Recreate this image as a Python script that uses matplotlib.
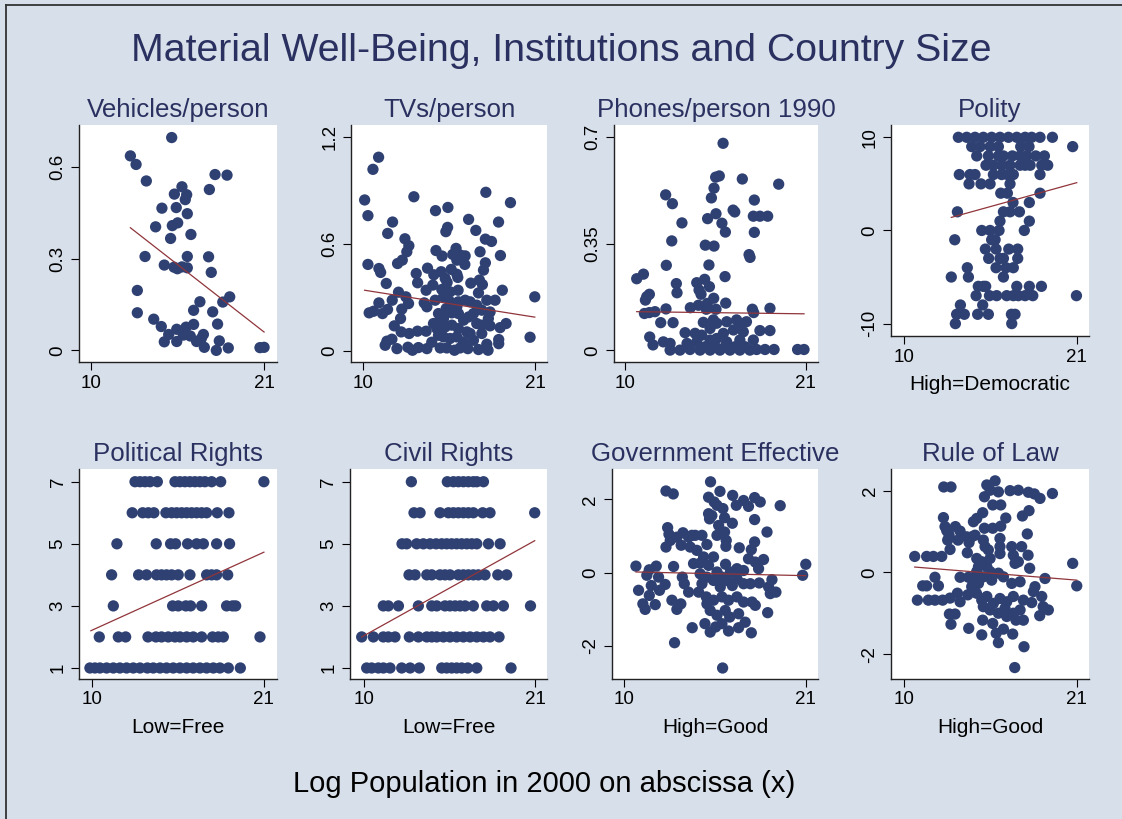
import numpy as np
import matplotlib
matplotlib.use('Agg')
import matplotlib.pyplot as plt
from matplotlib.lines import Line2D

plt.rcParams['font.family'] = ['Liberation Sans', 'DejaVu Sans']

# ---- data (x = log population 2000) ----
veh_x = [15.14, 12.52, 12.88, 13.53, 17.89, 18.65, 15.79, 15.31, 16.09, 16.0, 17.53, 14.52, 15.43,
         16.13, 14.12, 15.18, 15.52, 16.36, 15.07, 13.45, 16.13, 17.48, 14.67, 15.29, 15.5, 15.79,
         16.13, 17.65, 12.96, 18.82, 18.38, 16.93, 12.96, 16.53, 17.74, 14.0, 14.48, 18.05, 14.95,
         15.46, 16.05, 16.53, 15.88, 16.32, 17.15, 17.02, 16.72, 14.67, 15.46, 17.21, 18.16, 17.97,
         18.73, 20.74, 21.0]
veh_y = [0.696, 0.636, 0.608, 0.554, 0.575, 0.573, 0.535, 0.511, 0.509, 0.493, 0.526, 0.465, 0.467,
         0.447, 0.404, 0.408, 0.417, 0.379, 0.366, 0.307, 0.307, 0.306, 0.279, 0.272, 0.267, 0.273,
         0.270, 0.255, 0.196, 0.175, 0.158, 0.159, 0.123, 0.131, 0.126, 0.102, 0.078, 0.086, 0.052,
         0.069, 0.076, 0.085, 0.050, 0.047, 0.052, 0.039, 0.029, 0.028, 0.029, 0.010, 0.031, 0.0,
         0.008, 0.009, 0.010]

tv_x = [11.02, 10.66, 10.13, 10.34, 13.27, 17.86, 19.43, 14.65, 15.44, 16.76, 18.67, 11.91, 11.6,
        15.42, 15.31, 17.22, 17.83, 18.22, 12.7, 12.95, 12.82, 10.34, 11.04, 11.15, 12.23, 12.53,
        14.68, 15.07, 15.96, 15.75, 16.24, 16.54, 16.01, 16.52, 17.49, 17.83, 17.71, 18.79, 13.42,
        14.14, 14.54, 15.01, 15.65, 16.01, 16.07, 13.51, 11.51, 14.48, 15.27, 15.39, 16.9, 17.45,
        17.64, 18.91, 20.98, 14.05, 15.05, 15.58, 16.09, 12.29, 12.76, 11.89, 11.04, 10.42, 10.7,
        11.27, 11.59, 12.5, 12.93, 13.93, 12.42, 12.02, 12.46, 12.97, 13.5, 14.05, 11.55, 11.87,
        11.44, 12.19, 12.89, 13.18, 13.56, 14.1, 14.41, 14.84, 14.95, 15.37, 15.86, 16.22, 16.71,
        17.39, 18.0, 16.44, 17.07, 17.92, 18.68, 18.68, 20.68, 18.77, 19.15, 18.13, 18.02, 17.92,
        18.45, 17.39, 16.86, 16.54, 16.11, 17.28, 17.07, 16.76, 16.44, 16.11, 15.69, 15.33, 14.84,
        14.95, 15.27, 15.69, 16.11, 16.65, 17.28, 17.6, 17.6, 14.73, 15.16, 15.58, 16.01, 16.86,
        14.52, 14.1, 14.63, 15.16, 15.58, 16.01, 17.6, 18.13, 15.16]
tv_y = [1.086, 1.018, 0.846, 0.758, 0.864, 0.889, 0.831, 0.786, 0.804, 0.737, 0.722, 0.722, 0.658,
        0.692, 0.668, 0.675, 0.626, 0.613, 0.628, 0.589, 0.555, 0.484, 0.461, 0.439, 0.489, 0.508,
        0.562, 0.531, 0.574, 0.540, 0.536, 0.532, 0.508, 0.484, 0.555, 0.493, 0.452, 0.534, 0.433,
        0.463, 0.426, 0.443, 0.456, 0.429, 0.411, 0.381, 0.377, 0.368, 0.405, 0.383, 0.379, 0.396,
        0.371, 0.339, 0.302, 0.339, 0.343, 0.330, 0.339, 0.328, 0.302, 0.283, 0.268, 0.212, 0.221,
        0.208, 0.231, 0.233, 0.264, 0.268, 0.180, 0.139, 0.105, 0.096, 0.109, 0.109, 0.053, 0.064,
        0.030, 0.011, 0.019, 0.002, 0.017, 0.011, 0.047, 0.086, 0.015, 0.015, 0.002, 0.015, 0.011,
        0.006, 0.002, 0.049, 0.058, 0.036, 0.062, 0.039, 0.075, 0.129, 0.152, 0.139, 0.180, 0.283,
        0.283, 0.324, 0.274, 0.283, 0.274, 0.255, 0.208, 0.189, 0.171, 0.208, 0.212, 0.236, 0.208,
        0.171, 0.133, 0.143, 0.124, 0.105, 0.152, 0.143, 0.096, 0.124, 0.077, 0.068, 0.077, 0.096,
        0.152, 0.246, 0.283, 0.302, 0.274, 0.246, 0.227, 0.217, 0.180]

phone_x = [15.98, 19.36, 17.15, 15.53, 15.75, 15.43, 15.27, 12.49, 12.9, 17.88, 16.59, 16.69, 15.55,
           15.04, 15.91, 13.48, 17.82, 18.22, 18.69, 16.12, 17.88, 12.86, 14.9, 15.43, 17.56, 17.62,
           12.53, 15.12, 10.73, 11.14, 16.1, 13.14, 13.18, 14.38, 14.86, 14.52, 14.64, 15.15, 11.34,
           11.5, 11.26, 15.41, 16.14, 14.48, 15.02, 13.99, 12.51, 11.2, 11.5, 11.84, 14.96, 15.55,
           17.76, 17.84, 18.83, 12.19, 12.94, 14.78, 15.39, 15.59, 16.2, 16.8, 17.0, 17.4, 15.19,
           13.67, 14.28, 14.68, 16.0, 16.61, 17.21, 18.22, 18.83, 11.52, 11.72, 12.35, 12.76, 17.82,
           17.0, 15.19, 13.79, 14.38, 15.59, 16.2, 12.76, 13.36, 13.97, 14.58, 15.19, 15.79, 16.4,
           17.0, 17.61, 18.02, 18.53, 19.08, 20.51, 20.9, 14.9, 15.51, 16.1, 16.71, 17.32]
phone_y = [0.679, 0.545, 0.562, 0.568, 0.572, 0.532, 0.500, 0.510, 0.481, 0.493, 0.460, 0.454, 0.448,
           0.432, 0.417, 0.418, 0.440, 0.440, 0.440, 0.388, 0.387, 0.359, 0.345, 0.342, 0.314, 0.305,
           0.279, 0.280, 0.235, 0.250, 0.242, 0.219, 0.189, 0.222, 0.233, 0.198, 0.184, 0.209, 0.176,
           0.184, 0.165, 0.171, 0.155, 0.148, 0.154, 0.140, 0.136, 0.121, 0.124, 0.127, 0.135, 0.135,
           0.135, 0.124, 0.138, 0.091, 0.091, 0.092, 0.100, 0.089, 0.094, 0.100, 0.089, 0.094, 0.072,
           0.058, 0.056, 0.050, 0.056, 0.067, 0.061, 0.065, 0.065, 0.044, 0.018, 0.028, 0.023, 0.034,
           0.034, 0.034, 0.023, 0.028, 0.039, 0.028, 0.001, 0.001, 0.003, 0.001, 0.001, 0.001, 0.001,
           0.001, 0.001, 0.003, 0.003, 0.003, 0.003, 0.003, 0.012, 0.012, 0.012, 0.012, 0.012]

# integer-valued indices: score level -> x positions of countries at that level
polity_rows = {
    10: [13.46, 13.99, 14.52, 15.05, 15.58, 16.11, 16.65, 17.18, 17.71, 18.13, 18.66, 19.45],
    9: [14.31, 14.84, 15.48, 16.01, 17.43, 17.96, 20.74],
    8: [14.63, 15.37, 16.01, 16.33, 16.9, 17.39, 17.81, 18.39, 18.94],
    7: [15.22, 15.69, 16.22, 16.75, 17.39, 17.71, 18.03, 18.77, 19.15],
    6: [13.52, 14.2, 14.52, 15.69, 16.22, 16.58, 16.96, 18.66],
    5: [14.14, 14.9, 15.48, 16.75],
    4: [16.16, 16.58, 18.66],
    3: [16.94, 17.98],
    2: [13.4, 16.33, 16.75, 17.35],
    1: [16.11, 17.98],
    0: [14.95, 15.48, 16.05, 17.66],
    -1: [13.23, 15.58, 15.8],
    -2: [15.18, 15.86, 16.67, 17.24],
    -3: [15.39, 16.11, 16.33, 17.24],
    -4: [14.03, 15.86, 16.5, 16.96],
    -5: [13.01, 14.1, 16.33],
    -6: [14.73, 15.05, 15.2, 17.18, 17.98, 18.75],
    -7: [14.59, 15.44, 15.9, 16.54, 16.96, 17.28, 17.71, 18.2, 20.98],
    -8: [13.59, 15.01],
    -9: [13.35, 13.84, 14.69, 15.37, 16.84, 17.07],
    -10: [13.27, 16.86],
}

polrights_rows = {
    7: [12.74, 13.06, 13.38, 13.7, 14.17, 15.3, 15.62, 15.94, 16.26, 16.58, 16.9, 17.22, 17.65, 18.23, 21.0],
    6: [12.56, 13.23, 13.59, 13.95, 14.72, 15.09, 15.41, 15.73, 16.05, 16.37, 16.69, 17.01, 17.33, 18.01, 18.76],
    5: [11.58, 14.1, 15.02, 15.34, 16.11, 16.69, 17.12, 17.97, 18.8],
    4: [11.24, 12.97, 13.48, 14.12, 14.44, 14.76, 15.09, 15.51, 16.26, 17.33, 17.65, 17.97, 18.68],
    3: [11.35, 15.15, 15.51, 16.0, 16.3, 17.01, 18.61, 18.99, 19.19],
    2: [10.45, 11.67, 12.14, 13.57, 14.08, 14.44, 14.87, 15.3, 15.62, 16.05, 16.47, 17.01, 17.71,
        18.08, 18.4, 20.75],
    1: [9.85, 10.17, 10.49, 10.92, 11.35, 11.77, 12.2, 12.63, 13.06, 13.53, 13.91, 14.34, 14.76,
        15.19, 15.62, 16.05, 16.47, 16.9, 17.33, 17.76, 18.18, 18.72, 19.49],
}

civil_rows = {
    7: [13.04, 15.35, 15.74, 16.06, 16.38, 16.7, 17.02, 17.24, 17.67],
    6: [13.21, 13.6, 14.88, 15.42, 15.74, 16.06, 16.38, 16.7, 17.02, 17.62, 18.09, 20.96],
    5: [12.44, 12.74, 13.38, 13.81, 14.24, 14.63, 14.99, 15.31, 15.63, 15.95, 16.27, 16.6, 16.92,
        17.24, 17.99, 18.74],
    4: [12.89, 13.28, 14.03, 14.35, 14.88, 15.2, 15.52, 16.06, 16.38, 16.7, 17.02, 17.34, 17.77,
        18.59, 19.16],
    3: [11.24, 11.56, 12.21, 13.49, 14.35, 14.67, 15.2, 15.52, 15.85, 16.17, 16.49, 17.02, 17.88,
        18.31, 18.95, 20.69],
    2: [9.85, 10.6, 11.24, 11.56, 11.99, 12.91, 13.49, 14.03, 14.35, 14.67, 15.1, 15.52, 15.95,
        16.38, 16.81, 17.24, 17.67, 18.09, 18.67],
    1: [10.17, 10.49, 10.92, 11.24, 11.67, 12.42, 12.96, 13.55, 14.99, 15.31, 15.63, 15.95, 16.27,
        16.66, 17.24, 19.44],
}

goveff_x = [15.23, 12.53, 12.97, 15.8, 16.57, 15.11, 15.45, 15.62, 15.98, 16.79, 17.23, 17.53, 17.9,
            18.24, 19.45, 15.11, 15.31, 15.17, 16.08, 16.55, 17.9, 15.72, 16.08, 15.62, 18.65, 12.63,
            12.71, 12.79, 12.53, 13.19, 13.56, 13.45, 13.9, 14.1, 14.3, 14.71, 14.0, 14.4, 15.01,
            16.18, 16.16, 16.97, 17.9, 17.7, 14.81, 15.41, 14.2, 14.6, 15.11, 16.14, 16.83, 17.23,
            17.53, 17.94, 18.44, 18.14, 10.71, 11.52, 11.94, 12.99, 11.37, 12.08, 10.87, 11.64, 12.14,
            12.48, 11.52, 11.13, 11.27, 11.88, 12.89, 13.19, 13.43, 13.52, 13.64, 13.9, 14.51, 14.71,
            15.01, 15.41, 15.82, 16.22, 16.55, 16.83, 17.23, 17.64, 18.18, 18.95, 18.75, 19.19, 18.85,
            14.97, 15.41, 15.92, 16.32, 16.83, 17.23, 17.74, 17.94, 15.01, 15.21, 15.62, 16.12, 16.39,
            16.93, 17.33, 18.69, 14.89, 15.21, 15.54, 15.92, 16.32, 16.93, 17.7, 14.12, 13.05, 15.96,
            20.81, 21.0, 14.6, 15.62, 16.43, 15.92]
goveff_y = [2.48, 2.23, 2.15, 2.22, 2.11, 2.06, 1.93, 1.84, 1.75, 1.84, 1.97, 1.81, 2.05, 1.93, 1.83,
            1.61, 1.56, 1.47, 1.5, 1.35, 1.45, 1.29, 1.11, 1.02, 1.11, 1.23, 1.05, 0.88, 0.7, 0.97,
            1.09, 0.75, 0.97, 1.02, 1.02, 1.02, 0.7, 0.61, 0.77, 0.88, 0.72, 0.68, 0.84, 0.63, 0.43,
            0.43, 0.25, 0.26, 0.2, 0.23, 0.11, 0.06, 0.38, 0.29, 0.36, 0.11, 0.18, 0.08, 0.18, 0.17,
            -0.07, -0.12, -0.48, -0.35, -0.48, -0.32, -0.62, -0.85, -1.0, -0.87, -0.75, -1.0, -0.85,
            -0.12, -0.3, -0.53, -0.53, -0.3, -0.12, -0.21, -0.39, -0.21, -0.35, -0.16, -0.3, -0.3,
            -0.28, -0.19, -0.39, -0.53, -0.57, -0.66, -0.75, -0.66, -0.75, -0.66, -0.8, -0.8, -0.89,
            -0.85, -1.03, -1.16, -1.03, -1.21, -1.12, -1.35, -1.09, -1.39, -1.62, -1.48, -1.39, -1.59,
            -1.5, -1.64, -1.5, -1.91, -2.6, -0.07, 0.23, -0.03, 0.02, 0.02, -0.12]

law_x = [12.53, 12.99, 15.27, 15.8, 15.48, 16.01, 15.12, 16.75, 17.28, 17.92, 18.3, 18.66, 19.45,
         15.65, 16.16, 17.96, 17.54, 16.48, 15.01, 14.63, 14.42, 12.51, 12.61, 12.72, 12.87, 12.78,
         12.93, 13.27, 13.57, 13.44, 13.99, 14.31, 14.52, 14.14, 14.03, 15.12, 15.65, 16.16, 15.05,
         15.16, 15.37, 16.11, 16.11, 16.11, 17.85, 17.49, 16.86, 16.96, 17.9, 17.07, 18.0, 17.28,
         14.63, 14.95, 15.48, 14.74, 15.27, 10.68, 11.44, 11.87, 12.4, 20.74, 21.0, 11.97, 11.19,
         11.44, 12.19, 10.85, 11.55, 11.97, 12.46, 12.93, 13.4, 13.57, 13.57, 14.1, 14.06, 14.52,
         14.31, 14.74, 15.05, 15.58, 16.33, 16.86, 17.39, 18.34, 18.98, 14.61, 14.95, 15.27, 15.69,
         16.11, 16.54, 16.96, 17.6, 18.13, 18.77, 18.24, 19.19, 18.86, 18.64, 15.05, 15.48, 16.01,
         16.43, 16.96, 17.39, 17.6, 17.13, 16.54, 12.89, 13.25, 12.99, 15.01, 15.65, 14.12, 14.95,
         15.87, 16.33, 16.92, 16.01, 17.64, 17.05, 14.63, 15.48, 16.01]
law_y = [2.09, 2.09, 2.14, 2.24, 2.01, 1.97, 1.85, 2.0, 2.01, 1.96, 1.92, 1.81, 1.93, 1.65, 1.65,
         1.51, 1.38, 1.33, 1.46, 1.32, 1.24, 1.34, 1.12, 1.02, 0.91, 0.79, 0.56, 1.12, 1.01, 0.79,
         0.87, 0.87, 0.91, 0.73, 0.48, 1.08, 1.08, 1.13, 0.79, 0.63, 0.55, 0.83, 0.63, 0.46, 0.94,
         0.63, 0.63, 0.42, 0.42, 0.22, 0.1, 0.26, 0.34, 0.26, 0.34, 0.14, 0.14, 0.39, 0.39, 0.39,
         0.39, 0.22, -0.33, -0.12, -0.33, -0.33, -0.33, -0.68, -0.68, -0.68, -0.68, -0.63, -0.51,
         -0.72, -0.12, -0.12, -0.55, -0.12, -0.35, -0.27, -0.11, -0.19, -0.11, -0.27, -0.23, -0.35,
         -0.15, -0.51, -0.68, -0.59, -0.76, -0.64, -0.72, -0.59, -0.68, -0.74, -0.59, -0.47, -0.92,
         -0.84, -1.06, -0.84, -0.92, -1.0, -0.88, -1.0, -0.92, -1.17, -1.17, -1.08, -1.02, -1.02,
         -1.27, -1.17, -1.25, -1.37, -1.53, -1.49, -1.39, -1.51, -1.72, -1.82, -2.33, 0.02, 0.02, -0.02]

# fitted (lfit) lines: [x start, x end], [y start, y end]
veh_fit = ([12.52, 21.0], [0.401, 0.060])
tv_fit = ([10.13, 20.98], [0.339, 0.188])
phone_fit = ([10.73, 20.9], [0.127, 0.120])
polity_fit = ([13.01, 21.0], [1.40, 5.13])
polrights_fit = ([9.91, 21.0], [2.2, 4.73])
civil_fit = ([9.85, 20.96], [2.0, 5.1])
goveff_fit = ([10.71, 21.0], [0.02, -0.08])
law_fit = ([10.68, 21.0], [0.13, -0.19])


def rows_to_xy(rows):
    xs, ys = [], []
    for level, xlist in rows.items():
        xs += xlist
        ys += [level] * len(xlist)
    return xs, ys


W, H = 1122, 819
BG = '#d7dfea'
NAVY = '#2f4172'
MAROON = '#90353b'
TITLE = '#2a3160'

fig = plt.figure(figsize=(W / 100, H / 100), dpi=100, facecolor=BG)

# left, top, right, bottom in pixels
boxes = [(79, 125, 277, 362), (351, 125, 547, 362), (614, 125, 818, 362), (891, 125, 1089, 336),
         (79, 469, 277, 679), (350, 469, 547, 679), (612, 469, 818, 679), (891, 469, 1089, 679)]

panels = [
    ('Vehicles/person', veh_x, veh_y, veh_fit, (9.26, 21.82), (-0.038, 0.737), [0, 0.3, 0.6], ['0', '0.3', '0.6'], ''),
    ('TVs/person', tv_x, tv_y, tv_fit, (9.26, 21.76), (-0.064, 1.267), [0, 0.6, 1.2], ['0', '0.6', '1.2'], ''),
    ('Phones/person 1990', phone_x, phone_y, phone_fit, (9.35, 21.75), (-0.038, 0.739), [0, 0.35, 0.7], ['0', '0.35', '0.7'], ''),
    ('Polity', *rows_to_xy(polity_rows), polity_fit, (9.17, 21.78), (-11.33, 11.32), [-10, 0, 10], ['-10', '0', '10'], 'High=Democratic'),
    ('Political Rights', *rows_to_xy(polrights_rows), polrights_fit, (9.15, 21.84), (0.645, 7.41), [1, 3, 5, 7], ['1', '3', '5', '7'], 'Low=Free'),
    ('Civil Rights', *rows_to_xy(civil_rows), civil_fit, (9.1, 21.75), (0.645, 7.41), [1, 3, 5, 7], ['1', '3', '5', '7'], 'Low=Free'),
    ('Government Effective', goveff_x, goveff_y, goveff_fit, (9.26, 21.74), (-2.9, 2.83), [-2, 0, 2], ['-2', '0', '2'], 'High=Good'),
    ('Rule of Law', law_x, law_y, law_fit, (9.17, 21.78), (-2.61, 2.53), [-2, 0, 2], ['-2', '0', '2'], 'High=Good'),
]

for (l, t, r, b), (title, xs, ys, fit, xlim, ylim, yt, ytl, xlab) in zip(boxes, panels):
    ax = fig.add_axes([l / W, 1 - b / H, (r - l) / W, (b - t) / H])
    ax.set_facecolor('white')
    ax.scatter(xs, ys, s=66, color=NAVY, edgecolors='none', zorder=2)
    ax.plot(fit[0], fit[1], color=MAROON, lw=0.9, zorder=3)
    ax.set_xlim(*xlim)
    ax.set_ylim(*ylim)
    ax.set_xticks([10, 21])
    ax.set_xticklabels(['10', '21'])
    ax.set_yticks(yt)
    ax.set_yticklabels(ytl)
    for lbl in ax.get_yticklabels():
        lbl.set_rotation(90)
        lbl.set_va('center')
    ax.tick_params(length=6, width=0.8, pad=3, labelsize=13.5, colors='black')
    for side in ['top', 'right']:
        ax.spines[side].set_visible(False)
    for side in ['left', 'bottom']:
        ax.spines[side].set_linewidth(1.0)
        ax.spines[side].set_color('#222222')
    ax.set_title(title, fontsize=18.6, color=TITLE, pad=6)
    if xlab:
        ax.set_xlabel(xlab, fontsize=15, color='black', labelpad=7)

fig.text(0.5, 1 - 61 / H, 'Material Well-Being, Institutions and Country Size',
         ha='center', va='baseline', fontsize=28.3, color=TITLE)
fig.text(544 / W, 1 - 792 / H, 'Log Population in 2000 on abscissa (x)',
         ha='center', va='baseline', fontsize=21, color='black')

# outer frame (left and top edges visible in the original)
fig.add_artist(Line2D([5.5 / W, 5.5 / W], [0, 1 - 4.5 / H], color='#333333', lw=1.3))
fig.add_artist(Line2D([5.5 / W, 1], [1 - 4.5 / H, 1 - 4.5 / H], color='#333333', lw=1.3))

fig.savefig('out.png', dpi=100, facecolor=BG)
